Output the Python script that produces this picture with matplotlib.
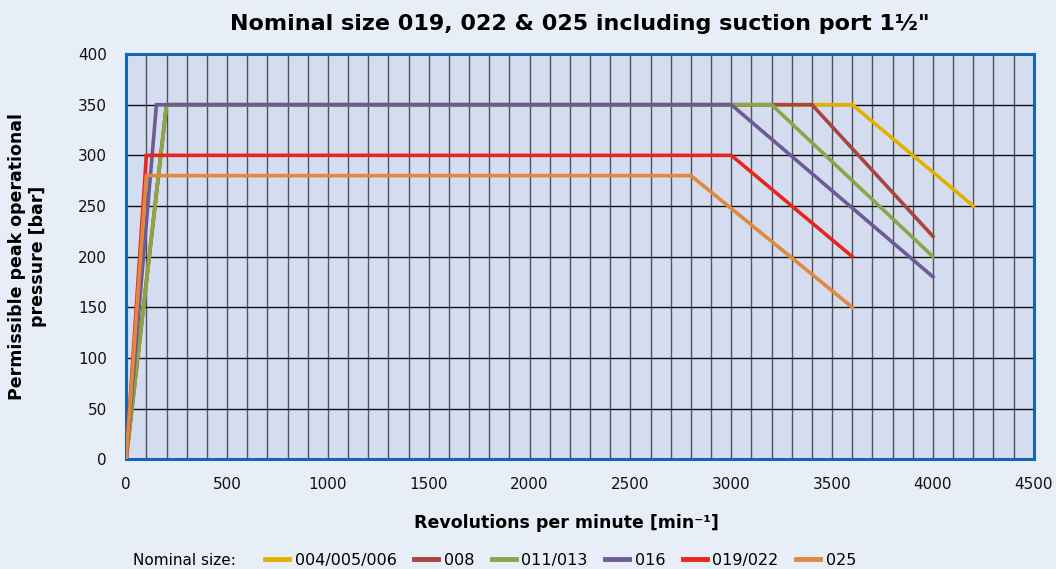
import matplotlib
matplotlib.use("Agg")
import matplotlib.pyplot as plt
from matplotlib.lines import Line2D

# permissible peak pressure vs. speed, one polyline per nominal size
sizes = ["004/005/006", "008", "011/013", "016", "019/022", "025"]
rpm = [
    [0, 200, 3600, 4200],
    [0, 200, 3400, 4000],
    [0, 200, 3200, 4000],
    [0, 150, 3000, 4000],
    [0, 100, 3000, 3600],
    [0, 100, 2800, 3600],
]
pressure = [
    [0, 350, 350, 250],
    [0, 350, 350, 220],
    [0, 350, 350, 200],
    [0, 350, 350, 180],
    [0, 300, 300, 200],
    [0, 280, 280, 150],
]
colors = ["#E2B100", "#A8453F", "#8AA64A", "#6E5A94", "#E8261C", "#E0883B"]

x_ticks = list(range(0, 4501, 500))
y_ticks = list(range(0, 401, 50))

plt.rcParams["font.family"] = ["DejaVu Sans"]

fig = plt.figure(figsize=(10.56, 5.69), dpi=100, facecolor="#E8EEF8")
ax = fig.add_axes([0.1195, 0.193, 0.8595, 0.712])
ax.set_facecolor("#D4DDF0")

for x, y, c in zip(rpm, pressure, colors):
    ax.plot(x, y, color=c, lw=2.6, solid_joinstyle="miter", zorder=3)

ax.set_xlim(0, 4500)
ax.set_ylim(0, 400)
ax.set_xticks(x_ticks)
ax.set_yticks(y_ticks)
ax.set_xticks(range(0, 4501, 100), minor=True)
ax.tick_params(which="both", length=0, labelsize=11, colors="#111111")
ax.tick_params(axis="x", pad=13)
ax.tick_params(axis="y", pad=14)
ax.grid(which="major", axis="y", color="#111111", lw=1.0)
ax.grid(which="both", axis="x", color="#222222", lw=1.0, alpha=0.75)
ax.set_axisbelow(True)
for s in ax.spines.values():
    s.set_color("#1565B0")
    s.set_linewidth(2.2)

ax.set_title('Nominal size 019, 022 & 025 including suction port 1½"',
             fontsize=16, fontweight="bold", pad=17)
ax.set_xlabel("Revolutions per minute [min⁻¹]", fontsize=12.5,
              fontweight="bold", labelpad=14)
ax.xaxis.set_label_coords(0.485, -0.135)
ax.set_ylabel("Permissible peak operational\npressure [bar]", fontsize=12.5,
              fontweight="bold", labelpad=22)

handles = [Line2D([], [], color=c, lw=3.5) for c in colors]
fig.text(0.126, 0.0155, "Nominal size:", fontsize=11, va="center")
fig.legend(handles, sizes, loc="center left", bbox_to_anchor=(0.251, 0.0155),
           ncol=6, frameon=False, fontsize=11.5, handlelength=1.5,
           handletextpad=0.35, columnspacing=1.1, borderaxespad=0,
           borderpad=0)

fig.savefig("out.png", dpi=100, facecolor=fig.get_facecolor())
